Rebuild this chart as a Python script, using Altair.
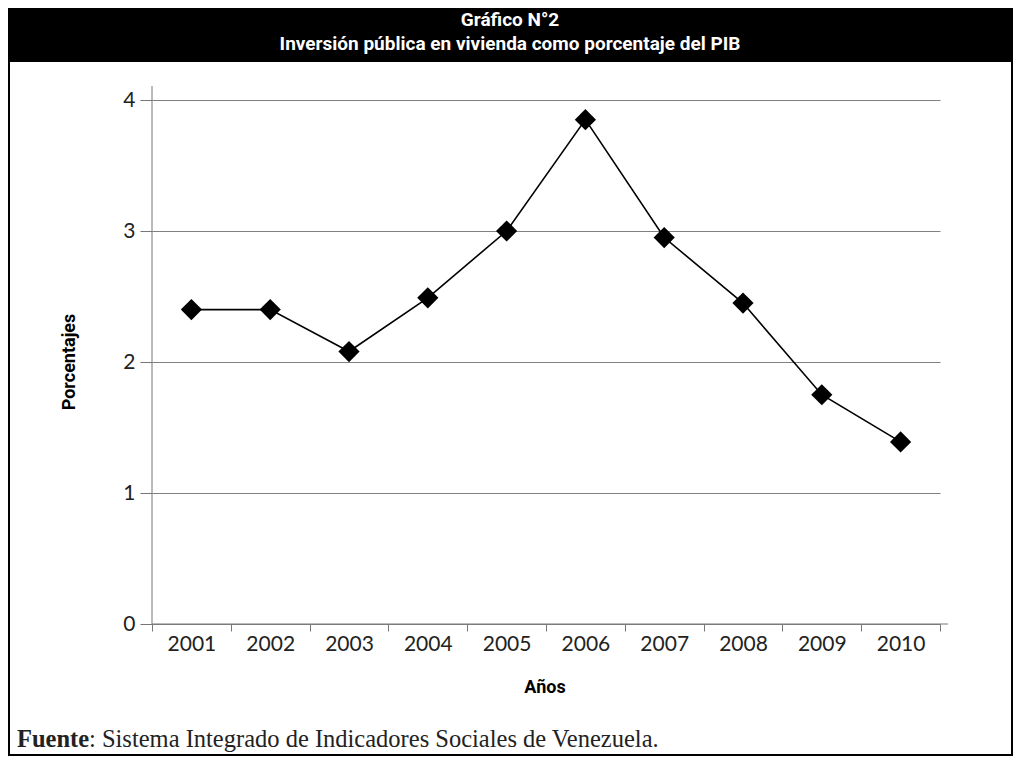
import altair as alt
import pandas as pd

# ---- data ----
years = ["2001", "2002", "2003", "2004", "2005", "2006", "2007", "2008", "2009", "2010"]
values = [2.40, 2.40, 2.08, 2.49, 3.00, 3.85, 2.95, 2.45, 1.75, 1.39]
y_ticks = [0, 1, 2, 3, 4]
title_line1 = "Gráfico N°2"
title_line2 = "Inversión pública en vivienda como porcentaje del PIB"
y_title = "Porcentajes"
x_title = "Años"
source_label = "Fuente"
source_text = ": Sistema Integrado de Indicadores Sociales de Venezuela."

df = pd.DataFrame({"year": years, "value": values})
one = pd.DataFrame({"k": [0]})

W, H = 788, 524
COND = "Roboto"

x_enc = alt.X(
    "year:O",
    scale=alt.Scale(type="band", paddingInner=0, paddingOuter=0),
    axis=alt.Axis(
        title=None, labelAngle=0, tickBand="extent", tickSize=7, labelPadding=2,
        labelFont="Lato", labelFontSize=21, labelColor="#222", domain=False,
        tickColor="#777", grid=False,
    ),
)
y_enc = alt.Y(
    "value:Q",
    scale=alt.Scale(domain=[0, 4]),
    axis=alt.Axis(
        title=None, values=y_ticks, tickSize=12, labelPadding=5,
        labelFont="Lato", labelFontSize=21, labelColor="#222", domain=False,
        tickColor="#777", gridColor="#808080", gridWidth=1, format="d",
    ),
)

line = alt.Chart(df).mark_line(color="black", strokeWidth=1.6).encode(x=x_enc, y=y_enc)
points = alt.Chart(df).mark_point(shape="diamond", filled=True, color="black", size=450, opacity=1).encode(
    x="year:O", y="value:Q"
)

deco = alt.Chart(one)
band = deco.mark_rect(color="black").encode(
    x=alt.value(-144), x2=alt.value(861), y=alt.value(-92), y2=alt.value(-38)
)
border = deco.mark_rect(filled=False, stroke="black", strokeWidth=2).encode(
    x=alt.value(-143), x2=alt.value(860), y=alt.value(-92), y2=alt.value(655)
)
yaxis_line = deco.mark_rule(color="#777", strokeWidth=1).encode(
    x=alt.value(0), y=alt.value(-14), y2=alt.value(H)
)
xaxis_line = deco.mark_rule(color="#777", strokeWidth=1).encode(
    x=alt.value(0), x2=alt.value(W + 8), y=alt.value(H)
)
t1 = deco.mark_text(color="white", font=COND, fontWeight="bold", fontSize=19, align="center", baseline="middle").encode(
    x=alt.value(358), y=alt.value(-80), text=alt.value(title_line1)
)
t2 = deco.mark_text(color="white", font=COND, fontWeight="bold", fontSize=19, align="center", baseline="middle").encode(
    x=alt.value(358), y=alt.value(-56), text=alt.value(title_line2)
)
ytitle = deco.mark_text(color="black", font=COND, fontWeight="bold", fontSize=18, align="center", baseline="middle", angle=270).encode(
    x=alt.value(-82), y=alt.value(262), text=alt.value(y_title)
)
xtitle = deco.mark_text(color="black", font=COND, fontWeight="bold", fontSize=18, align="center", baseline="middle").encode(
    x=alt.value(393), y=alt.value(588), text=alt.value(x_title)
)
src1 = deco.mark_text(color="#222", font="Liberation Serif", fontWeight="bold", fontSize=24.5, align="left", baseline="middle").encode(
    x=alt.value(-135), y=alt.value(640), text=alt.value(source_label)
)
src2 = deco.mark_text(color="#222", font="Liberation Serif", fontSize=24.5, align="left", baseline="middle").encode(
    x=alt.value(-135 + 72), y=alt.value(640), text=alt.value(source_text)
)

chart = alt.layer(
    band, border, yaxis_line, xaxis_line, line, points, t1, t2, ytitle, xtitle, src1, src2
).properties(
    width=W, height=H,
    padding={"left": 144, "top": 92, "right": 73, "bottom": 132},
    autosize=alt.AutoSizeParams(type="none"),
    background="white",
).configure_view(stroke=None)

chart.save("out.html", embed_options={"renderer": "svg", "actions": False})
